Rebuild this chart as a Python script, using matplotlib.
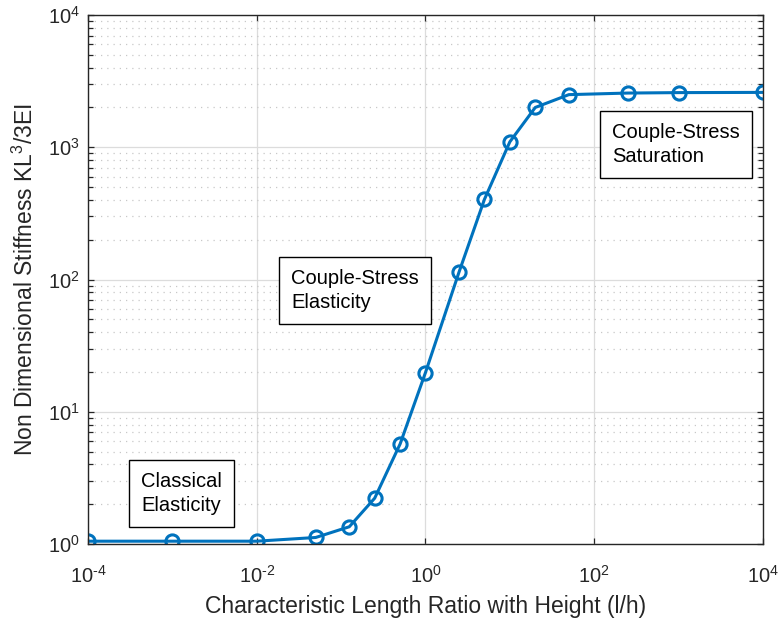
import numpy as np
import matplotlib
matplotlib.use('Agg')
import matplotlib.pyplot as plt
from matplotlib.ticker import LogLocator, NullLocator, NullFormatter, FixedLocator, FuncFormatter

plt.rcParams['font.family'] = ['Liberation Sans', 'DejaVu Sans']
plt.rcParams['mathtext.fontset'] = 'custom'
plt.rcParams['mathtext.rm'] = 'Liberation Sans'
plt.rcParams['mathtext.default'] = 'regular'
plt.rcParams['axes.unicode_minus'] = False

# length ratio l/h and non dimensional stiffness
ratio = [1e-4, 1e-3, 1e-2, 0.05, 0.125, 0.25, 0.5, 1, 2.5, 5, 10, 20, 50, 250, 1000, 10000]
stiffness = [1.05, 1.05, 1.05, 1.12, 1.35, 2.22, 5.7, 19.8, 114, 404, 1100, 2000, 2500, 2570, 2590, 2600]

x_ticks = [1e-4, 1e-2, 1, 1e2, 1e4]
region_labels = ['Classical\nElasticity', 'Couple-Stress\nElasticity', 'Couple-Stress\nSaturation']

blue = '#0072BD'
dark = '#262626'


def pow10(v, pos):
    # matlab style label, plain hyphen for the minus
    e = int(round(np.log10(v)))
    return r'$10^{\text{%d}}$' % e


fig = plt.figure(figsize=(7.82, 6.26), dpi=100)
ax = fig.add_axes([0.1125, 0.131, 0.8632, 0.845])

ax.loglog(ratio, stiffness, '-o', color=blue, lw=2.2, ms=9.5, mfc='none', mew=2.2)

ax.set_xlim(1e-4, 1e4)
ax.set_ylim(1, 1e4)

ax.xaxis.set_major_locator(FixedLocator(x_ticks))
ax.xaxis.set_minor_locator(NullLocator())
ax.xaxis.set_major_formatter(FuncFormatter(pow10))
ax.yaxis.set_major_locator(LogLocator(base=10, numticks=10))
ax.yaxis.set_major_formatter(FuncFormatter(pow10))
ax.yaxis.set_minor_locator(LogLocator(base=10, subs=np.arange(2, 10), numticks=10))
ax.yaxis.set_minor_formatter(NullFormatter())

ax.grid(True, which='major', color='#dcdcdc', lw=0.9, ls='-')
ax.grid(True, which='minor', axis='y', color='#c8c8c8', lw=0.9, ls=(0, (1, 4)))
ax.set_axisbelow(True)

ax.tick_params(which='both', direction='in', top=True, right=True, colors=dark,
               labelsize=14.5, width=0.9)
ax.tick_params(which='major', length=4)
ax.tick_params(which='minor', length=3.5)
ax.tick_params(axis='x', pad=15)
ax.tick_params(axis='y', pad=6)
for s in ax.spines.values():
    s.set_color(dark)
    s.set_linewidth(1.0)

ax.set_xlabel('Characteristic Length Ratio with Height (l/h)', fontsize=16.5, color=dark, labelpad=6)
ax.set_ylabel('Non Dimensional Stiffness KL$^{3}$/3EI', fontsize=16.5, color=dark, labelpad=7)

box = dict(boxstyle='square,pad=0.6', fc='white', ec='black', lw=1.0)
text_pos = [(0.0785, 0.136), (0.3007, 0.520), (0.7763, 0.796)]
for (tx, ty), lab in zip(text_pos, region_labels):
    ax.text(tx, ty, lab, transform=ax.transAxes, fontsize=14.5,
            va='top', ha='left', bbox=box, linespacing=1.35)

fig.savefig('out.png', dpi=100)
